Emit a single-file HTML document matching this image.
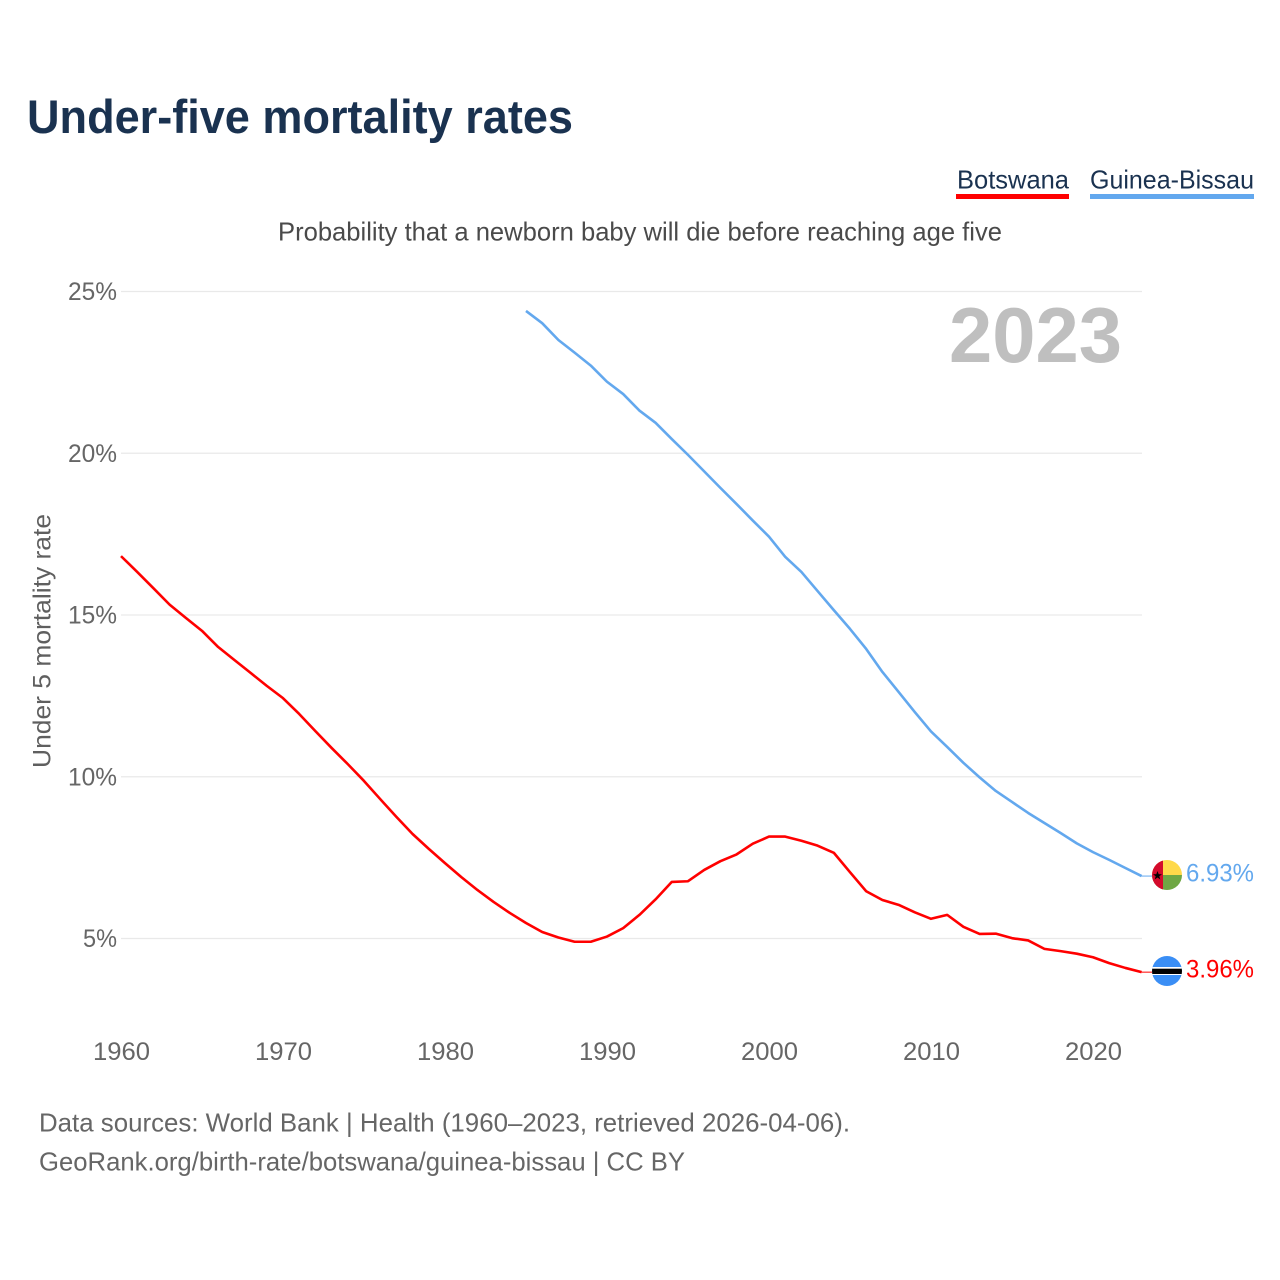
<!DOCTYPE html>
<html lang="en">
<head>
<meta charset="utf-8">
<title>Under-five mortality rates</title>
<style>
html,body{margin:0;padding:0;background:#fff;width:1280px;height:1280px;overflow:hidden}
svg{display:block}
text{font-family:"Liberation Sans",sans-serif}
</style>
</head>
<body>
<svg id="chart" xmlns="http://www.w3.org/2000/svg" width="1280" height="1280" viewBox="0 0 1280 1280">
  <rect width="1280" height="1280" fill="#fff"/>
  <text x="27" y="133" font-size="47" font-weight="700" fill="#1a3250" textLength="546" lengthAdjust="spacingAndGlyphs">Under-five mortality rates</text>

  <g>
    <text x="957" y="188.5" font-size="26" fill="#1a3250" textLength="112" lengthAdjust="spacingAndGlyphs">Botswana</text>
    <rect x="956" y="194" width="113" height="5" fill="#ff0000"/>
  </g>
  <g>
    <text x="1090" y="188.5" font-size="26" fill="#1a3250" textLength="164" lengthAdjust="spacingAndGlyphs">Guinea-Bissau</text>
    <rect x="1090" y="194" width="164" height="5" fill="#63a8ee"/>
  </g>

  <text x="278" y="240.5" font-size="26" fill="#4a4a4a" textLength="724" lengthAdjust="spacingAndGlyphs">Probability that a newborn baby will die before reaching age five</text>

  <g id="grid"></g>
  <g id="yticks"></g>
  <g id="xticks"></g>

  <text transform="translate(50.5,641) rotate(-90)" text-anchor="middle" font-size="25" fill="#5f5f5f" textLength="254" lengthAdjust="spacingAndGlyphs">Under 5 mortality rate</text>

  <text id="year-label" x="949" y="362" font-size="78" font-weight="700" fill="#bfbfbf" textLength="173" lengthAdjust="spacingAndGlyphs">2023</text>

  <g id="series"></g>

  <g id="flag-gw">
    <clipPath id="clip-gw"><circle cx="1167" cy="875" r="15"/></clipPath>
    <g clip-path="url(#clip-gw)">
      <rect x="1152" y="860" width="30" height="15" fill="#ffd94a"/>
      <rect x="1152" y="875" width="30" height="15" fill="#6fa744"/>
      <rect x="1152" y="860" width="11" height="30" fill="#d40a2c"/>
      <polygon points="1157.5,871 1158.7,874.2 1162,874.2 1159.3,876.2 1160.3,879.5 1157.5,877.5 1154.7,879.5 1155.7,876.2 1153,874.2 1156.3,874.2" fill="#000"/>
    </g>
  </g>
  <g id="flag-bw">
    <clipPath id="clip-bw"><circle cx="1167" cy="971" r="15"/></clipPath>
    <g clip-path="url(#clip-bw)">
      <rect x="1152" y="956" width="30" height="30" fill="#3a8ef5"/>
      <rect x="1152" y="967" width="30" height="8" fill="#fff"/>
      <rect x="1152" y="968.7" width="30" height="5.3" fill="#000"/>
    </g>
  </g>

  <g id="value-labels"></g>

  <text x="39" y="1131.5" font-size="26" fill="#666" textLength="811" lengthAdjust="spacingAndGlyphs">Data sources: World Bank | Health (1960–2023, retrieved 2026-04-06).</text>
  <text x="39" y="1170.5" font-size="26" fill="#666" textLength="646" lengthAdjust="spacingAndGlyphs">GeoRank.org/birth-rate/botswana/guinea-bissau | CC BY</text>
</svg>
<script>
const yTickValues = [5, 10, 15, 20, 25];
const xTickYears = [1960, 1970, 1980, 1990, 2000, 2010, 2020];
const botswanaStartYear = 1960;
const guineaBissauStartYear = 1985;
const botswanaValues = [16.82,16.33,15.83,15.32,14.91,14.51,14.01,13.61,13.21,12.81,
  12.43,11.94,11.41,10.89,10.39,9.87,9.31,8.76,8.23,7.77,
  7.33,6.90,6.50,6.13,5.79,5.48,5.20,5.03,4.90,4.90,
  5.06,5.32,5.73,6.21,6.75,6.77,7.12,7.39,7.60,7.93,
  8.15,8.15,8.02,7.87,7.65,7.05,6.46,6.19,6.04,5.81,
  5.61,5.73,5.36,5.14,5.15,5.01,4.94,4.68,4.61,4.53,
  4.42,4.24,4.09,3.96];
const guineaBissauValues = [24.40,24.02,23.50,23.11,22.71,
  22.21,21.83,21.32,20.94,20.44,19.95,19.44,18.93,18.43,17.92,
  17.42,16.80,16.33,15.74,15.15,14.57,13.95,13.24,12.62,12.00,
  11.40,10.92,10.43,9.98,9.56,9.22,8.88,8.57,8.26,7.94,
  7.67,7.43,7.18,6.93];

const NS = 'http://www.w3.org/2000/svg';
const xScale = year => 121 + (year - 1960) * 16.2;
const yScale = value => 1100.25 - value * 32.35;
const plotRight = 1142;

function make(tag, attrs, parent, text) {
  const el = document.createElementNS(NS, tag);
  for (const k in attrs) el.setAttribute(k, attrs[k]);
  if (text !== undefined) el.textContent = text;
  parent.appendChild(el);
  return el;
}

const gridGroup = document.getElementById('grid');
const yTickGroup = document.getElementById('yticks');
const xTickGroup = document.getElementById('xticks');
const seriesGroup = document.getElementById('series');
const valueGroup = document.getElementById('value-labels');

yTickValues.forEach(v => {
  const line = make('line', {x1: 121, x2: plotRight, y1: yScale(v), y2: yScale(v), stroke: '#e9e9e9', 'stroke-width': 1.3}, gridGroup);
  
  
  const label = make('text', {x: 117, y: yScale(v) + 8.5, 'text-anchor': 'end', 'font-size': 25, fill: '#666', textLength: v < 10 ? 34 : 49, lengthAdjust: 'spacingAndGlyphs'}, yTickGroup, v + '%');
  
  
});

xTickYears.forEach(year => {
  const label = make('text', {x: xScale(year) + 0.5, y: 1060, 'text-anchor': 'middle', 'font-size': 25, fill: '#666', textLength: 57, lengthAdjust: 'spacingAndGlyphs'}, xTickGroup, String(year));
  
  
});

function drawSeries(values, startYear, color, lineName, leaderName, labelName) {
  const pts = values.map((v, i) => xScale(startYear + i).toFixed(2) + ',' + yScale(v).toFixed(2)).join(' ');
  const line = make('polyline', {points: pts, fill: 'none', stroke: color, 'stroke-width': 2.6, 'stroke-linejoin': 'round'}, seriesGroup);
  
  
  const last = values[values.length - 1];
  const leader = make('line', {x1: xScale(startYear + values.length - 1), x2: 1152, y1: yScale(last), y2: yScale(last), stroke: color, 'stroke-width': 1}, seriesGroup);
  
  
  const label = make('text', {x: 1254, y: yScale(last) + 5.5, 'text-anchor': 'end', 'font-size': 25, fill: color, textLength: 68, lengthAdjust: 'spacingAndGlyphs'}, valueGroup, last.toFixed(2) + '%');
  
  
}

drawSeries(botswanaValues, botswanaStartYear, '#ff0000', 'line-botswana', 'leader-botswana', 'value-label-botswana');
drawSeries(guineaBissauValues, guineaBissauStartYear, '#63a8ee', 'line-guinea-bissau', 'leader-guinea-bissau', 'value-label-guinea-bissau');
</script>
</body>
</html>
